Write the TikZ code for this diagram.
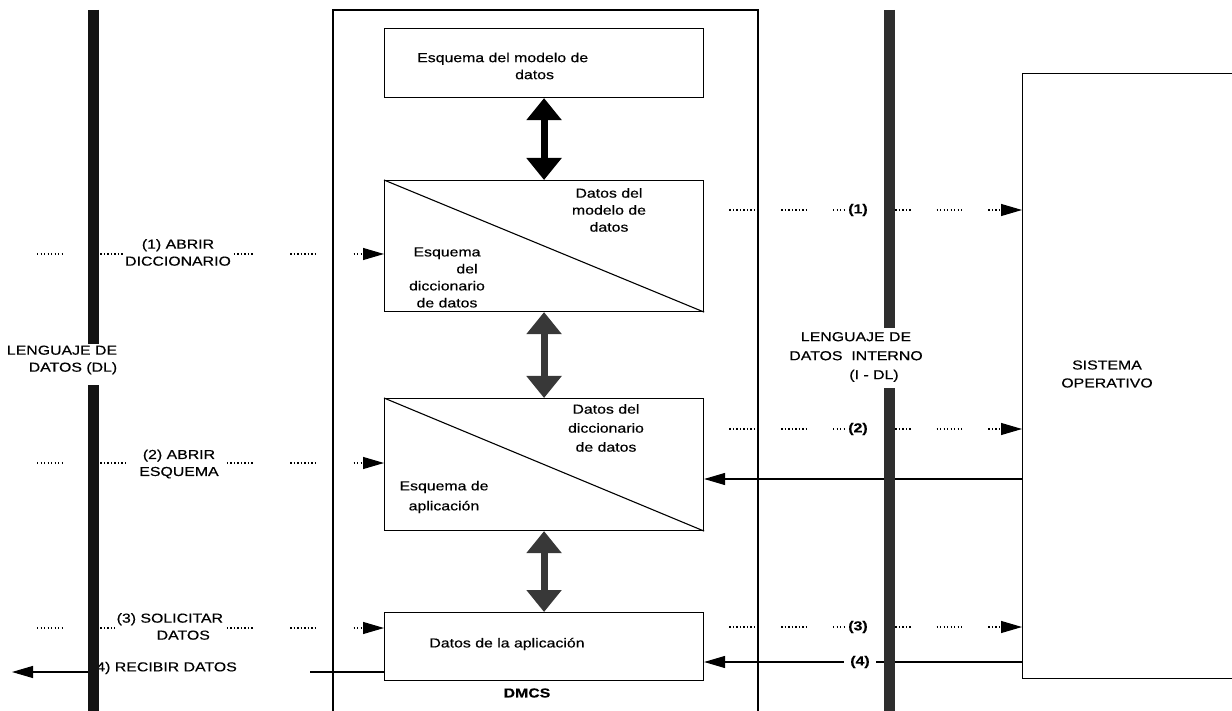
\documentclass[tikz,border=0pt]{standalone}
\usepackage{fontspec}
\setmainfont{Liberation Sans}[FakeStretch=1.22, FakeBold=0.4]
\usetikzlibrary{arrows.meta}
\begin{document}
\begin{tikzpicture}[x=1pt,y=-1pt,
  every node/.style={font=\fontsize{13pt}{17pt}\selectfont, inner sep=0pt},
  bold/.style={font=\fontsize{13pt}{17pt}\selectfont\bfseries},
  box/.style={draw, line width=1.1pt, anchor=north west, minimum width=319pt, inner sep=0pt},
  txt/.style={align=center},
  dbl/.style={line width=7pt, {Triangle[length=22pt,width=34pt]}-{Triangle[length=22pt,width=34pt]}},
  tip/.style={-{Triangle[length=21pt,width=12pt,color=black]}},
  dotsR/.style={black, line width=1.1pt, dash pattern=on 1.3pt off 2.2pt on 1.3pt off 2.2pt on 1.3pt off 2.2pt on 1.3pt off 2.2pt on 1.3pt off 2.2pt on 1.3pt off 2.2pt on 1.3pt off 2.2pt on 1.3pt off 26pt, dash phase=26.5pt},
  dotsL/.style={black, line width=1.1pt, dash pattern=on 1.3pt off 2.2pt on 1.3pt off 2.2pt on 1.3pt off 2.2pt on 1.3pt off 2.2pt on 1.3pt off 2.2pt on 1.3pt off 2.2pt on 1.3pt off 2.2pt on 1.3pt off 37.5pt},
  solidc/.style={line width=1.1pt},
  bar/.style={line width=11pt},
  gap/.style={fill=white, inner xsep=1.5pt, inner ysep=1pt}
]
\useasboundingbox (0,0) rectangle (1232,711);

% DMCS frame
\draw[line width=1.1pt] (333,711) -- (333,10) -- (758,10) -- (758,711);
\node[bold] (dmcs) at (527,693) {DMCS};

% inner boxes
\node[box, minimum height=69pt] (b1) at (384,28) {};
\node[box, minimum height=131pt] (b2) at (384,180) {};
\node[box, minimum height=132pt] (b3) at (384,398) {};
\node[box, minimum height=68pt] (b4) at (384,612) {};
\draw[line width=1.1pt] (b2.north west) -- (b2.south east);
\draw[line width=1.1pt] (b3.north west) -- (b3.south east);

\node[align=left, anchor=west] (t1) at (417,66) {Esquema del modelo de\\\hspace*{98pt}datos};
\node[txt] (t2a) at (609,210) {Datos del\\modelo de\\datos};
\node[txt] (t2b) at (447,277.5) {Esquema\\\hspace*{40pt}del\\diccionario\\de datos};
\node[txt] (t3a) at (606,428) {Datos del\\[2pt]diccionario\\[2pt]de datos};
\node[txt] (t3b) at (444,497) {Esquema de\\[3pt]aplicación};
\node (t4) at (507,644) {Datos de la aplicación};

% double arrows
\draw[dbl, black] (b1.south) -- (b2.north);
\draw[dbl, black!78] (b2.south) -- (b3.north);
\draw[dbl, black!78] (b3.south) -- (b4.north);

% operating system
\node[draw, line width=1.1pt, anchor=north west, minimum width=240pt, minimum height=605pt] (SO) at (1022,73) {};
\node[txt] (solab) at (1107,374) {SISTEMA\\[1pt]OPERATIVO};

% left connectors
\coordinate (L1) at (37,254);
\coordinate (L2) at (37,463);
\coordinate (L3) at (37,628);
\draw[dotsL, tip] (L1) -- (L1 -| b2.west);
\draw[dotsL, tip] (L2) -- (L2 -| b3.west);
\draw[dotsL, tip] (L3) -- (L3 -| b4.west);
\node[txt, gap] (lab1) at (178,252.5) {(1) ABRIR\\DICCIONARIO};
\node[txt, gap] (lab2) at (179,464) {(2) ABRIR\\ESQUEMA};
\node[align=left, anchor=west, gap] (lab3) at (115,626.5) {(3) SOLICITAR\\\hspace*{40pt}DATOS};

\coordinate (L4a) at (310,672);
\coordinate (L4b) at (12,672);
\draw[solidc] (b4.west |- L4a) -- (L4a);
\node[anchor=east] (lab4) at (237,668) {(4) RECIBIR DATOS};
\draw[solidc, tip] (lab4.west |- L4b) -- (L4b);

% right connectors
\coordinate (R1) at (0,210);
\coordinate (R2) at (0,429);
\coordinate (R2s) at (0,479);
\coordinate (R3) at (0,627);
\coordinate (R4) at (0,662);
\draw[dotsR, tip] (b2.east |- R1) -- (SO.west |- R1);
\draw[dotsR, tip] (b3.east |- R2) -- (SO.west |- R2);
\draw[solidc, tip] (SO.west |- R2s) -- (b3.east |- R2s);
\draw[dotsR, tip] (b4.east |- R3) -- (SO.west |- R3);
\draw[solidc, tip] (SO.west |- R4) -- (b4.east |- R4);
\node[bold, gap] (n1) at (858,210) {(1)};
\node[bold, gap] (n2) at (858,429) {(2)};
\node[bold, gap] (n3) at (858,627) {(3)};
\node[bold, gap, inner xsep=6pt] (n4) at (860,662) {(4)};

% language bars
\draw[bar, black!92] (93.5,10) -- (93.5,344);
\draw[bar, black!92] (93.5,385) -- (93.5,711);
\draw[bar, black!82] (889.5,10) -- (889.5,328);
\draw[bar, black!82] (889.5,388) -- (889.5,711);

\node[txt] (dl) at (62,360) {LENGUAJE DE\\\hspace*{22pt}DATOS (DL)};
\node[txt] (idl) at (856,357) {LENGUAJE DE\\[2pt]DATOS\ \ INTERNO\\[2pt]\hspace*{36pt}(I - DL)};
\end{tikzpicture}
\end{document}
